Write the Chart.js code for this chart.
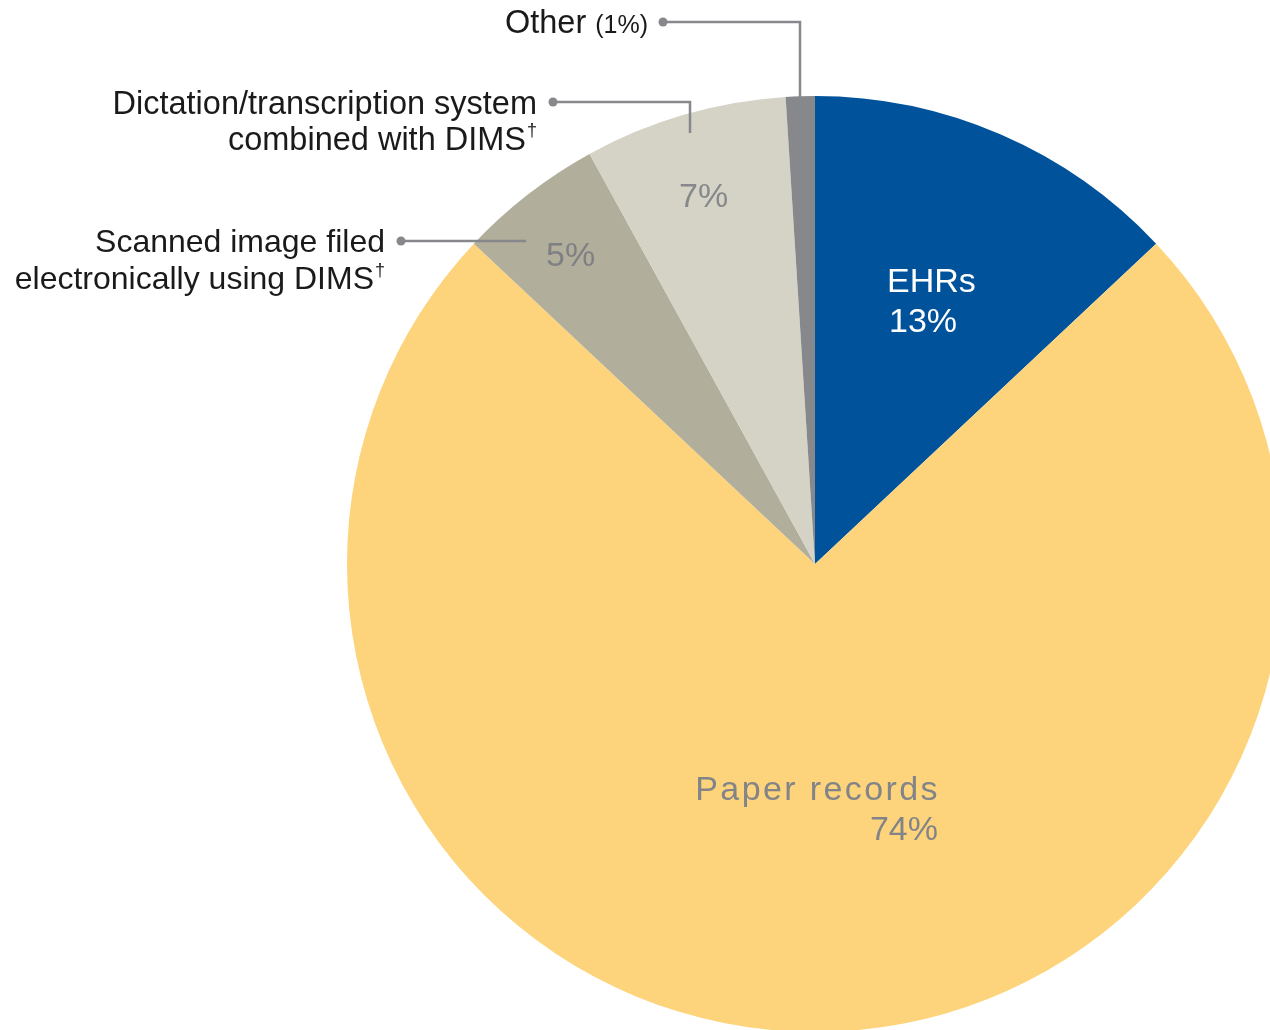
<!doctype html>
<html lang="en">
<head>
  <meta charset="utf-8">
  <title>Medical records systems</title>
  <style>
    html, body {
      margin: 0;
      padding: 0;
      background: #fff;
      overflow: hidden;
    }
    .wrap {
      position: relative;
      width: 1270px;
      height: 1030px;
      overflow: hidden;
    }
    /* canvas is bigger than the page so the pie can run off the right edge */
    #pie {
      position: absolute;
      left: 0;
      top: 0;
    }
  </style>
</head>
<body>
  <div class="wrap">
    <canvas id="pie" width="1630" height="1126"></canvas>
  </div>

  <script src="https://cdn.jsdelivr.net/npm/chart.js"></script>
  <script>
    const categories = ['EHRs', 'Paper records', 'Scanned image filed electronically using DIMS', 'Dictation/transcription system combined with DIMS', 'Other'];
    const shares     = [13, 74, 5, 7, 1];
    const colours    = ['#00529b', '#fdd47c', '#b1ae9b', '#d5d3c6', '#87888b'];

    const FONT = '"Liberation Sans", Arial, sans-serif';
    const GREY = '#87888b';

    function drawDagger(ctx, text, x, y, size) {
      // right-aligned text ending at x, with a small raised dagger
      const small = Math.round(size * 0.55) + 'px ' + FONT;
      ctx.font = small;
      const dw = ctx.measureText('\u2020').width;
      ctx.textAlign = 'right';
      ctx.fillText('\u2020', x, y - size * 0.42);
      ctx.font = size + 'px ' + FONT;
      ctx.fillText(text, x - dw - 1, y);
    }

    const labels = {
      id: 'labels',
      afterDatasetsDraw(chart) {
        const ctx = chart.ctx;
        ctx.save();
        ctx.textBaseline = 'alphabetic';

        // inside labels
        ctx.font = '34px ' + FONT;
        ctx.fillStyle = '#ffffff';
        ctx.textAlign = 'left';
        ctx.fillText(categories[0], 887, 292);
        ctx.fillText(shares[0] + '%', 889, 332);

        ctx.fillStyle = '#838488';
        ctx.textAlign = 'right';
        ctx.letterSpacing = '2.4px';
        ctx.fillText(categories[1], 940, 800);
        ctx.letterSpacing = '0px';
        ctx.fillText(shares[1] + '%', 938, 840);

        ctx.textAlign = 'left';
        ctx.fillStyle = '#7f8084';
        ctx.fillText(shares[2] + '%', 546, 266);
        ctx.fillStyle = GREY;
        ctx.fillText(shares[3] + '%', 679, 207);

        // callout labels
        ctx.fillStyle = '#1a1a1a';
        ctx.textAlign = 'right';
        ctx.font = '25px ' + FONT;
        const w2 = ctx.measureText('(1%)').width;
        ctx.fillText('(1%)', 648, 33);
        ctx.font = '32.5px ' + FONT;
        ctx.fillText('Other', 648 - w2 - 9, 33);

        ctx.fillText('Dictation/transcription system', 537, 114);
        drawDagger(ctx, 'combined with DIMS', 537, 150, 32.5);

        ctx.font = '32px ' + FONT;
        ctx.textAlign = 'right';
        ctx.fillText('Scanned image filed', 385, 252);
        drawDagger(ctx, 'electronically using DIMS', 385, 289, 32);

        // leader lines
        ctx.strokeStyle = GREY;
        ctx.fillStyle = GREY;
        ctx.lineWidth = 2.5;
        const leaders = [
          [[663, 22], [800, 22], [800, 98]],
          [[553, 102], [690, 102], [690, 133]],
          [[401, 241], [526, 241]]
        ];
        leaders.forEach(pts => {
          ctx.beginPath();
          ctx.moveTo(pts[0][0], pts[0][1]);
          pts.slice(1).forEach(p => ctx.lineTo(p[0], p[1]));
          ctx.stroke();
          ctx.beginPath();
          ctx.arc(pts[0][0], pts[0][1], 4.5, 0, Math.PI * 2);
          ctx.fill();
        });
        ctx.restore();
      }
    };

    new Chart(document.getElementById('pie'), {
      type: 'pie',
      data: {
        labels: categories,
        datasets: [{
          data: shares,
          backgroundColor: colours,
          borderWidth: 0
        }]
      },
      options: {
        responsive: false,
        animation: false,
        layout: { padding: { left: 347, right: 347, top: 96, bottom: 94 } },
        plugins: {
          legend: { display: false },
          tooltip: { enabled: false }
        }
      },
      plugins: [labels]
    });
  </script>
</body>
</html>
